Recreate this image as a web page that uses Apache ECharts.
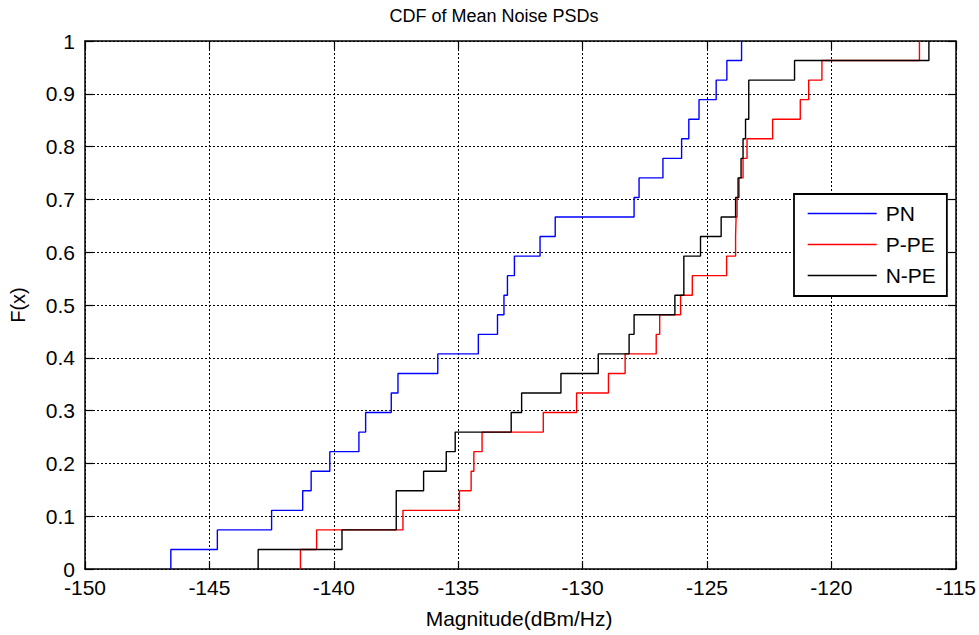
<!DOCTYPE html>
<html><head><meta charset="utf-8">
<script src="https://cdn.jsdelivr.net/npm/echarts@6/dist/echarts.min.js"></script>
<style>html,body{margin:0;padding:0;background:#fff}#c{width:979px;height:635px}</style>
</head><body><div id="c"></div>
<script>
// ---- data (sorted sample values) ----
const seriesNames = ['PN', 'P-PE', 'N-PE'];
const pnValues = [-146.55, -144.68, -142.50, -141.25, -140.91, -140.16, -138.99, -138.72, -137.69,
  -137.42, -135.82, -134.19, -133.42, -133.16, -133.02, -132.74, -131.71, -131.10, -127.93,
  -127.73, -126.77, -126.02, -125.73, -125.32, -124.63, -124.20, -123.61];
const ppeValues = [-141.34, -140.69, -137.22, -134.95, -134.48, -134.37, -134.04, -131.58, -130.24,
  -128.96, -128.29, -127.04, -126.90, -126.06, -125.59, -124.21, -123.85, -123.83, -123.79,
  -123.71, -123.55, -123.39, -122.36, -121.25, -120.91, -120.38, -116.46];
const npeValues = [-143.04, -139.67, -137.49, -137.49, -136.39, -135.48, -135.12, -132.87, -132.45,
  -130.87, -129.37, -128.13, -127.93, -126.29, -125.93, -125.93, -125.26, -124.43, -123.85,
  -123.75, -123.63, -123.55, -123.45, -123.32, -123.32, -121.48, -116.08];
const xTickLabels = [-150, -145, -140, -135, -130, -125, -120, -115];
const yTickLabels = [0, 0.1, 0.2, 0.3, 0.4, 0.5, 0.6, 0.7, 0.8, 0.9, 1];
const titleText = 'CDF of Mean Noise PSDs';
const xLabel = 'Magnitude(dBm/Hz)';
const yLabel = 'F(x)';

// ---- build empirical CDF step points ----
function ecdf(vals) {
  const n = vals.length, pts = [];
  vals.forEach((v, i) => { pts.push([v, i / n]); pts.push([v, (i + 1) / n]); });
  return pts;
}

const FONT = '"Liberation Sans", Arial, sans-serif';
const xMin = xTickLabels[0], xMax = xTickLabels[xTickLabels.length - 1];
const xStep = xTickLabels[1] - xTickLabels[0];
const yMin = yTickLabels[0], yMax = yTickLabels[yTickLabels.length - 1];
const yStep = 0.1;

const axisCommon = {
  axisLine: { show: true, onZero: false, lineStyle: { color: '#000', width: 1.5 } },
  axisTick: { show: true, inside: true, length: 8, lineStyle: { color: '#000', width: 1.2 } },
};

const chart = echarts.init(document.getElementById('c'), null, { renderer: 'svg' });
chart.setOption({
  animation: false,
  backgroundColor: '#fff',
  grid: { left: 85, top: 41, right: 22, bottom: 66, containLabel: false },
  xAxis: [
    Object.assign({
      type: 'value', min: xMin, max: xMax, interval: xStep, position: 'bottom',
      axisLabel: { color: '#000', fontSize: 21, fontFamily: FONT, margin: 10, lineHeight: 16 },
      splitLine: { show: true, lineStyle: { color: '#000', width: 1, type: [2, 2] } }
    }, axisCommon),
    Object.assign({
      type: 'value', min: xMin, max: xMax, interval: xStep, position: 'top',
      axisLabel: { show: false }, splitLine: { show: false }
    }, axisCommon)
  ],
  yAxis: [
    Object.assign({
      type: 'value', min: yMin, max: yMax, interval: yStep, position: 'left',
      axisLabel: { color: '#000', fontSize: 21, fontFamily: FONT, margin: 10, lineHeight: 16 },
      splitLine: { show: true, lineStyle: { color: '#000', width: 1, type: [2, 2] } }
    }, axisCommon),
    Object.assign({
      type: 'value', min: yMin, max: yMax, interval: yStep, position: 'right',
      axisLabel: { show: false }, splitLine: { show: false }
    }, axisCommon)
  ],
  legend: {
    orient: 'vertical', left: 794, top: 194,
    data: seriesNames,
    backgroundColor: '#fff', borderColor: '#000', borderWidth: 1.8, borderRadius: 0,
    padding: [9, 11, 10, 13], itemGap: 10, itemWidth: 69, itemHeight: 14,
    itemStyle: { opacity: 0 },
    lineStyle: { width: 1.4 },
    textStyle: { color: '#000', fontSize: 21, fontFamily: FONT, padding: [0, 0, 0, 4] },
    selectedMode: false
  },
  graphic: [
    { type: 'text', x: 494, y: 16, style: { text: titleText, fill: '#000', font: '18px ' + FONT, textAlign: 'center', textVerticalAlign: 'middle' } },
    { type: 'text', x: 519, y: 618, style: { text: xLabel, fill: '#000', font: '21px ' + FONT, textAlign: 'center', textVerticalAlign: 'middle' } },
    { type: 'text', x: 18, y: 305, rotation: Math.PI / 2, style: { text: yLabel, fill: '#000', font: '20px ' + FONT, textAlign: 'center', textVerticalAlign: 'middle' } }
  ],
  series: [
    { name: seriesNames[0], type: 'line', data: ecdf(pnValues), symbol: 'none', showSymbol: false,
      lineStyle: { color: '#0000ff', width: 1.4 }, itemStyle: { color: '#0000ff' }, z: 3 },
    { name: seriesNames[1], type: 'line', data: ecdf(ppeValues), symbol: 'none', showSymbol: false,
      lineStyle: { color: '#ff0000', width: 1.4 }, itemStyle: { color: '#ff0000' }, z: 3 },
    { name: seriesNames[2], type: 'line', data: ecdf(npeValues), symbol: 'none', showSymbol: false,
      lineStyle: { color: '#000000', width: 1.4 }, itemStyle: { color: '#000000' }, z: 3 }
  ]
});
</script></body></html>
